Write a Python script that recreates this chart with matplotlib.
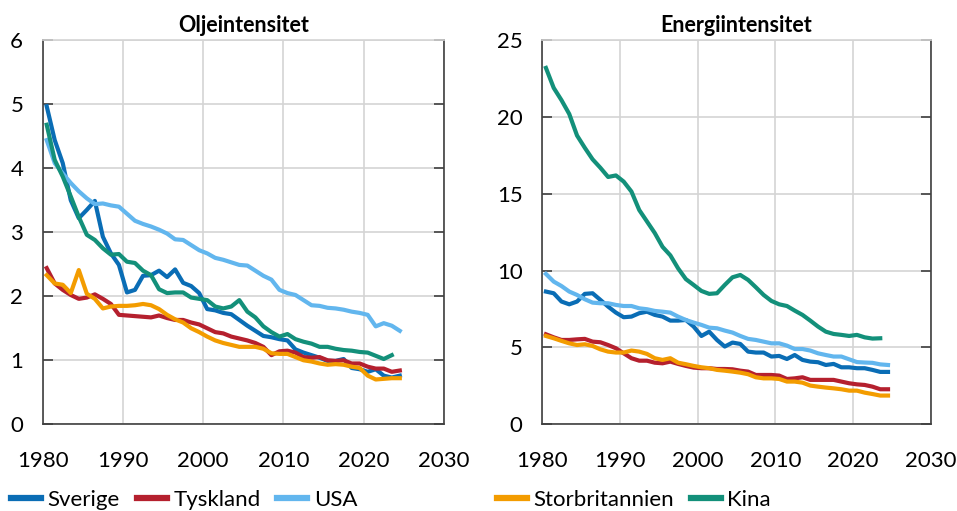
"""
Olje- och energiintensitet, fem länder, 1980-2024.
"""

import numpy as np
import matplotlib
matplotlib.use("Agg")
import matplotlib.pyplot as plt

# ============================================================================
# DATA
# ============================================================================

years = list(range(1980, 2025))

countries = ["Sverige", "Tyskland", "USA", "Storbritannien", "Kina"]

# Oljeintensitet
olja_sverige = [4.97, 4.44, 4.08, 3.50, 3.22, 3.35, 3.49, 2.93, 2.67, 2.49,
                2.06, 2.10, 2.32, 2.33, 2.40, 2.30, 2.42, 2.21, 2.16, 2.05,
                1.80, 1.78, 1.74, 1.72, 1.63, 1.54, 1.46, 1.38, 1.36, 1.33,
                1.31, 1.17, 1.12, 1.08, 1.04, 0.99, 0.99, 1.02, 0.88, 0.86,
                0.82, 0.86, 0.76, 0.73, 0.76]
olja_tyskland = [2.44, 2.20, 2.10, 2.02, 1.96, 1.98, 2.03, 1.96, 1.88, 1.71,
                 1.70, 1.69, 1.68, 1.67, 1.70, 1.66, 1.63, 1.63, 1.59, 1.56,
                 1.50, 1.44, 1.42, 1.37, 1.34, 1.31, 1.27, 1.21, 1.08, 1.14,
                 1.15, 1.12, 1.05, 1.04, 1.05, 1.00, 0.99, 1.00, 0.95, 0.95,
                 0.90, 0.87, 0.87, 0.82, 0.84]
olja_usa = [4.44, 4.08, 3.92, 3.77, 3.64, 3.53, 3.44, 3.45, 3.42, 3.40,
            3.29, 3.18, 3.13, 3.09, 3.04, 2.98, 2.89, 2.88, 2.80, 2.72,
            2.67, 2.60, 2.57, 2.53, 2.49, 2.48, 2.40, 2.32, 2.26, 2.10,
            2.05, 2.02, 1.94, 1.86, 1.85, 1.82, 1.81, 1.79, 1.76, 1.74,
            1.71, 1.53, 1.58, 1.54, 1.46]
olja_storbritannien = [2.33, 2.20, 2.18, 2.05, 2.41, 2.04, 1.96, 1.81, 1.84, 1.85,
                       1.85, 1.86, 1.88, 1.86, 1.80, 1.71, 1.64, 1.59, 1.50, 1.44,
                       1.37, 1.31, 1.27, 1.24, 1.21, 1.21, 1.21, 1.18, 1.11, 1.10,
                       1.10, 1.05, 1.00, 0.98, 0.95, 0.93, 0.94, 0.93, 0.90, 0.88,
                       0.76, 0.70, 0.71, 0.72, 0.72]
olja_kina = [4.68, 4.13, 3.87, 3.56, 3.24, 2.96, 2.88, 2.75, 2.65, 2.66,
             2.54, 2.52, 2.40, 2.33, 2.11, 2.05, 2.06, 2.06, 1.98, 1.96,
             1.94, 1.84, 1.81, 1.84, 1.94, 1.76, 1.67, 1.53, 1.44, 1.37,
             1.41, 1.33, 1.29, 1.26, 1.21, 1.21, 1.18, 1.16, 1.15, 1.13,
             1.12, 1.07, 1.02, 1.08]

# Energiintensitet
energi_sverige = [8.64, 8.53, 7.99, 7.81, 7.99, 8.49, 8.53, 8.10, 7.66, 7.27,
                  6.97, 7.01, 7.23, 7.33, 7.12, 7.01, 6.75, 6.75, 6.79, 6.36,
                  5.75, 6.03, 5.49, 5.06, 5.32, 5.23, 4.73, 4.67, 4.67, 4.41,
                  4.45, 4.25, 4.51, 4.19, 4.08, 4.04, 3.86, 3.93, 3.71, 3.71,
                  3.65, 3.65, 3.54, 3.41, 3.41]
energi_tyskland = [5.86, 5.66, 5.49, 5.49, 5.53, 5.56, 5.38, 5.34, 5.16, 4.95,
                   4.62, 4.30, 4.14, 4.14, 4.01, 3.97, 4.08, 3.93, 3.80, 3.69,
                   3.65, 3.65, 3.60, 3.60, 3.58, 3.49, 3.43, 3.21, 3.21, 3.21,
                   3.17, 2.95, 2.99, 3.06, 2.89, 2.89, 2.89, 2.89, 2.78, 2.67,
                   2.60, 2.56, 2.45, 2.28, 2.28]
energi_usa = [9.79, 9.29, 9.00, 8.64, 8.42, 8.14, 7.92, 7.88, 7.88, 7.77,
              7.70, 7.70, 7.55, 7.49, 7.38, 7.33, 7.27, 7.01, 6.79, 6.62,
              6.47, 6.29, 6.25, 6.10, 5.97, 5.75, 5.56, 5.49, 5.38, 5.27,
              5.27, 5.12, 4.90, 4.90, 4.80, 4.62, 4.51, 4.41, 4.41, 4.23,
              4.05, 4.02, 4.00, 3.90, 3.86]
energi_storbritannien = [5.75, 5.60, 5.43, 5.27, 5.16, 5.21, 5.10, 4.88, 4.73, 4.67,
                         4.67, 4.80, 4.73, 4.58, 4.30, 4.19, 4.30, 4.01, 3.91, 3.80,
                         3.71, 3.65, 3.54, 3.49, 3.43, 3.36, 3.26, 3.06, 2.99, 2.99,
                         2.95, 2.78, 2.78, 2.71, 2.52, 2.45, 2.39, 2.34, 2.28, 2.19,
                         2.19, 2.06, 1.97, 1.87, 1.87]
energi_kina = [23.2, 21.9, 21.1, 20.2, 18.8, 18.0, 17.25, 16.7, 16.1, 16.2,
               15.8, 15.15, 13.95, 13.2, 12.45, 11.55, 11.0, 10.15, 9.45, 9.07,
               8.68, 8.49, 8.53, 9.07, 9.57, 9.72, 9.40, 8.92, 8.42, 8.03,
               7.81, 7.70, 7.40, 7.12, 6.75, 6.36, 6.03, 5.88, 5.82, 5.75,
               5.82, 5.66, 5.58, 5.60]

# ============================================================================
# STYLE
# ============================================================================

COLORS = {
    "Sverige": "#0a6db5",
    "Tyskland": "#b5202e",
    "USA": "#62b6ee",
    "Storbritannien": "#f39c00",
    "Kina": "#13907a",
}

plt.rcParams["font.family"] = ["Lato", "DejaVu Sans"]
plt.rcParams["font.size"] = 16

SPINE_DARK = "#404040"
GRID = "#d4d4d4"


def draw_panel(ax, series, title, ylim, yticks):
    """Draw one panel with five countries."""
    x = np.array(years) + 0.5
    for name in countries:
        values = series[name]
        ax.plot(x[:len(values)], values, color=COLORS[name], lw=3,
                label=name, solid_joinstyle="round")

    ax.set_xlim(1980, 2030)
    ax.set_ylim(*ylim)
    ax.set_xticks(range(1980, 2031, 10))
    ax.set_yticks(yticks)
    ax.set_title(title, fontweight="bold", fontsize=15.5, pad=6)

    ax.grid(True, color=GRID, lw=1.2)
    ax.set_axisbelow(True)
    for side in ["left", "right", "bottom"]:
        ax.spines[side].set_color(SPINE_DARK)
        ax.spines[side].set_linewidth(1.2)
    ax.spines["top"].set_color(GRID)
    ax.spines["top"].set_linewidth(1.2)

    ax.tick_params(axis="y", direction="in", length=7, width=1.2,
                   color=SPINE_DARK, left=True, right=True, pad=14,
                   labelsize=16)
    ax.tick_params(axis="x", length=0, pad=19, labelsize=16)


# ============================================================================
# MAIN
# ============================================================================

def main():
    fig = plt.figure(figsize=(9.57, 5.11), dpi=100)
    ax1 = fig.add_axes([0.0446, 0.1697, 0.4193, 0.7515])
    ax2 = fig.add_axes([0.5664, 0.1697, 0.4062, 0.7515])

    olja = {"Sverige": olja_sverige, "Tyskland": olja_tyskland,
            "USA": olja_usa, "Storbritannien": olja_storbritannien,
            "Kina": olja_kina}
    energi = {"Sverige": energi_sverige, "Tyskland": energi_tyskland,
              "USA": energi_usa, "Storbritannien": energi_storbritannien,
              "Kina": energi_kina}

    draw_panel(ax1, olja, "Oljeintensitet", (0, 6), range(0, 7))
    draw_panel(ax2, energi, "Energiintensitet", (0, 25), range(0, 26, 5))

    # Legend split over the two panels (sits at the very bottom edge)
    handles, labels = ax1.get_legend_handles_labels()
    leg_kw = dict(frameon=False, fontsize=16, handlelength=1.35,
                  handletextpad=0.3, columnspacing=0.75, borderaxespad=0,
                  borderpad=0, loc="center left", bbox_transform=fig.transFigure)
    leg1 = ax1.legend(handles[:3], labels[:3], ncol=3,
                      bbox_to_anchor=(0.0115, 0.022), **leg_kw)
    leg2 = ax2.legend(handles[3:], labels[3:], ncol=2,
                      bbox_to_anchor=(0.519, 0.022), **leg_kw)
    for leg in (leg1, leg2):
        for line in leg.get_lines():
            line.set_linewidth(4.5)

    fig.savefig("out.png", dpi=100)
    plt.close(fig)


if __name__ == "__main__":
    main()
